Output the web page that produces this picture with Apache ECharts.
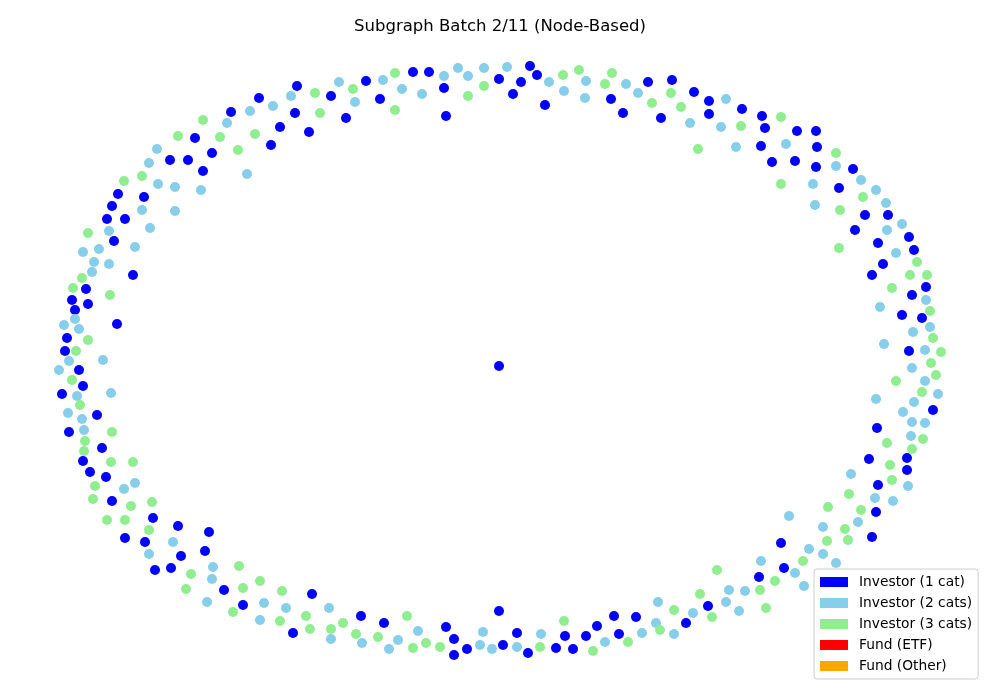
<!DOCTYPE html>
<html>

<head>
    <meta charset="utf-8" />
    <title>Subgraph Batch 2/11</title>
    <script src="https://cdn.jsdelivr.net/npm/echarts@6/dist/echarts.min.js"></script>
    <style>
        html, body { margin: 0; padding: 0; background: #fff; }
        #main { width: 1000px; height: 700px; }
    </style>
</head>

<body>
    <div id="main"></div>

    <script type="text/javascript">
        // node positions of the layout (x right, y down)
        var investor1 = [
            [297,86],[259,98],[331,96],[295,113],[231,112],[280,127],[309,132],[195,138],[271,145],[212,153],
            [170,160],[188,160],[203,171],[118,194],[144,197],[112,206],[107,219],[125,219],[114,241],[133,275],
            [86,289],[72,300],[88,304],[75,310],[117,324],[67,338],[65,351],
            [366,81],[413,72],[429,72],[380,99],[346,118],[444,88],[446,116],[499,79],[530,66],[537,75],
            [521,82],[513,94],[545,105],[611,99],[623,113],
            [648,82],[672,80],[694,92],[709,101],[709,114],[661,118],[742,109],[762,116],[765,128],[797,131],
            [816,131],[761,146],[817,147],[772,162],[795,161],[816,167],[853,169],[839,188],[865,215],[888,215],
            [855,230],[909,237],[878,243],[914,250],[883,264],[872,275],[926,287],[912,295],[902,315],[922,318],
            [909,351],
            [79,370],[83,386],[62,394],[97,415],[69,432],[102,448],[83,461],[90,472],[106,477],[112,501],
            [153,518],[178,526],[209,532],[125,538],[145,542],[205,551],[181,556],[155,570],[171,568],[224,590],
            [312,594],[243,605],[293,633],
            [499,366],[361,616],[384,623],[446,627],[454,639],[454,655],[467,649],[499,611],[503,645],[517,633],
            [528,653],[556,648],[565,636],[573,649],[586,636],[597,626],[614,616],[619,634],[636,617],
            [933,410],[877,428],[869,459],[907,458],[907,470],[878,485],[876,512],[872,537],[781,543],[784,568],
            [759,577],[708,606],[686,623]
        ];

        var investor2 = [
            [339,82],[291,96],[273,106],[250,111],[227,123],[157,149],[149,163],[158,184],[175,187],[201,190],
            [247,174],[142,210],[175,211],[150,228],[109,231],[99,249],[83,252],[135,247],[94,262],[109,264],
            [92,272],[75,319],[64,325],[79,329],[69,361],[103,360],
            [383,80],[355,102],[402,89],[422,94],[444,76],[458,68],[468,76],[484,68],[507,67],[549,82],
            [564,91],[586,81],[585,98],[626,84],[638,93],
            [726,99],[690,123],[721,127],[736,147],[786,144],[836,166],[861,180],[876,190],[813,184],[815,205],
            [886,203],[902,224],[887,230],[896,253],[926,300],[880,307],[930,327],[913,332],[884,344],[925,350],
            [59,370],[77,396],[111,393],[68,413],[82,419],[84,430],[124,489],[135,483],[173,542],[149,554],
            [213,567],[212,579],[207,602],[264,603],[286,608],[329,608],[260,620],[331,639],
            [362,643],[389,649],[398,640],[418,631],[480,645],[483,632],[492,649],[517,647],[541,634],[605,642],
            [912,368],[925,381],[938,394],[876,399],[914,402],[903,412],[912,422],[925,423],[911,436],[851,474],
            [908,486],[875,498],[893,501],[789,516],[858,522],[823,527],[809,549],[823,554],[836,563],[761,561],
            [795,573],[804,586],[729,590],[745,591],[726,602],[739,611],[658,602],[693,613],[656,623],[674,634],
            [642,633]
        ];

        var investor3 = [
            [315,93],[320,113],[203,120],[178,136],[220,137],[255,134],[238,150],[124,181],[142,176],[88,233],
            [82,278],[73,288],[110,295],[88,340],[76,351],
            [353,89],[395,73],[395,110],[468,96],[484,86],[563,75],[579,70],[612,73],[605,84],
            [671,93],[652,103],[681,107],[781,117],[741,126],[698,149],[836,153],[781,184],[863,197],[840,210],
            [839,248],[917,262],[910,275],[927,275],[892,288],[930,311],[933,338],[941,352],
            [931,363],[896,381],[936,375],[922,392],[887,443],[923,439],[912,449],[890,465],[892,480],[849,494],
            [828,507],[861,510],[845,529],[827,541],[848,540],[803,561],[717,570],[775,581],[760,590],[700,594],
            [674,610],[712,617],[766,608],[660,630],
            [72,380],[80,405],[112,432],[85,441],[84,451],[111,462],[133,462],[95,486],[93,499],[152,502],
            [131,506],[107,520],[125,520],[149,530],[239,566],[191,574],[260,581],[186,589],[243,588],[282,591],
            [233,612],[280,621],[306,616],[310,629],[331,629],
            [343,623],[356,634],[378,637],[407,616],[413,648],[426,643],[440,647],[540,647],[564,621],[593,651],
            [628,642]
        ];

        // no funds in this batch, they only show up in the legend
        var fundEtf = [];
        var fundOther = [];

        var seriesNames = ['Investor (1 cat)', 'Investor (2 cats)', 'Investor (3 cats)', 'Fund (ETF)', 'Fund (Other)'];
        var seriesColors = ['#0000ff', '#87ceeb', '#90ee90', '#ff0000', '#ffa500'];
        var seriesData = [investor1, investor2, investor3, fundEtf, fundOther];

        var chart = echarts.init(document.getElementById('main'));

        var option = {
            animation: false,
            backgroundColor: '#ffffff',
            title: {
                text: 'Subgraph Batch 2/11 (Node-Based)',
                left: 'center',
                top: 13,
                textStyle: {
                    fontFamily: 'DejaVu Sans',
                    fontSize: 16.5,
                    fontWeight: 'normal',
                    color: '#000'
                }
            },
            legend: {
                data: seriesNames,
                orient: 'vertical',
                left: 814,
                top: 569,
                padding: [6, 6, 6, 6],
                itemWidth: 28,
                itemHeight: 10,
                itemGap: 7,
                icon: 'rect',
                borderColor: '#cccccc',
                borderWidth: 1,
                borderRadius: 3,
                backgroundColor: 'rgba(255,255,255,0.8)',
                textStyle: {
                    fontFamily: 'DejaVu Sans',
                    fontSize: 13.8,
                    color: '#000',
                    padding: [0, 0, 0, 6]
                }
            },
            grid: { left: 0, right: 0, top: 0, bottom: 0 },
            xAxis: { type: 'value', min: 0, max: 1000, show: false },
            yAxis: { type: 'value', min: 0, max: 700, inverse: true, show: false },
            series: seriesNames.map(function (name, i) {
                return {
                    name: name,
                    type: 'scatter',
                    symbol: 'circle',
                    symbolSize: 10,
                    itemStyle: { color: seriesColors[i], opacity: 1 },
                    data: seriesData[i]
                };
            })
        };

        chart.setOption(option);
    </script>
</body>

</html>
